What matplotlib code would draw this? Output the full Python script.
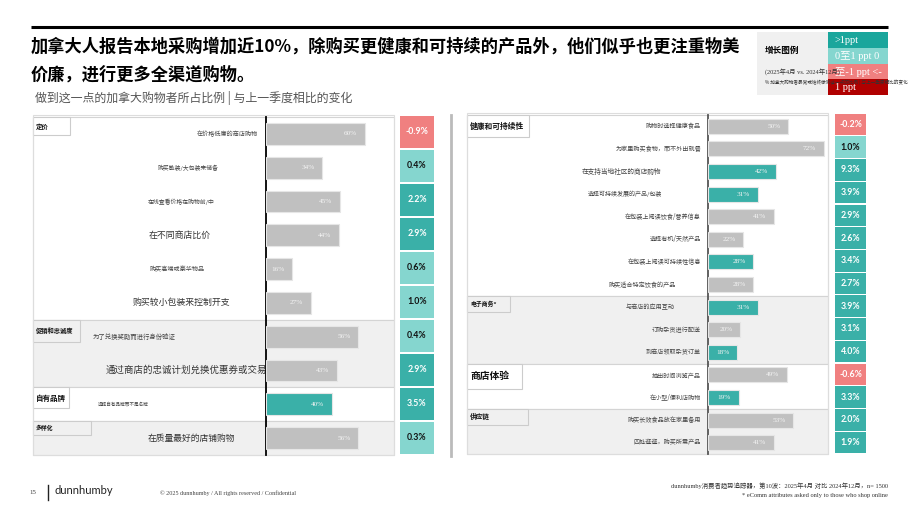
import matplotlib
matplotlib.use('Agg')
import matplotlib.pyplot as plt
from matplotlib.patches import Rectangle
import matplotlib.transforms as mtrans

plt.rcParams['font.family'] = ['Noto Sans CJK SC', 'DejaVu Sans']

# ---------------- data ----------------
title_lines = ['加拿大人报告本地采购增加近10%，除购买更健康和可持续的产品外，他们似乎也更注重物美',
               '价廉，进行更多全渠道购物。']
subtitle = '做到这一点的加拿大购物者所占比例 | 与上一季度相比的变化'

left_categories = ['在价格低廉的商店购物', '购买散装/大包装来储备', '在线查看价格在购物前/中',
                   '在不同商店比价', '购买高端或豪华物品', '购买较小包装来控制开支',
                   '为了兑换奖励而进行身份验证', '通过商店的忠诚计划兑换优惠券或交易',
                   '选择自有品牌而不是名牌', '在质量最好的店铺购物']
left_values = [60, 34, 45, 44, 16, 27, 56, 43, 40, 56]
left_changes = [-0.9, 0.4, 2.2, 2.9, 0.6, 1.0, 0.4, 2.9, 3.5, 0.3]
left_highlight = [False, False, False, False, False, False, False, False, True, False]
left_sections = ['定价', '促销和忠诚度', '自有品牌', '多样化']
left_section_sizes = [6, 2, 1, 1]

right_categories = ['购物时选择健康食品', '为家里购买食物，而不外出就餐', '在支持当地社区的商店购物',
                    '选择可持续发展的产品/包装', '在包装上阅读饮食/营养信息', '选择有机/天然产品',
                    '在包装上阅读可持续性信息', '购买适合特定饮食的产品', '与商店的应用互动',
                    '订购杂货进行配送', '到商店领取杂货订单', '抽出时间浏览产品',
                    '在小型/便利店购物', '购买长效食品放在家里备用', '四处逛逛，购买所需产品']
right_values = [50, 72, 42, 31, 41, 22, 28, 28, 31, 20, 18, 49, 19, 53, 41]
right_changes = [-0.2, 1.0, 9.3, 3.9, 2.9, 2.6, 3.4, 2.7, 3.9, 3.1, 4.0, -0.6, 3.3, 2.0, 1.9]
right_highlight = [False, False, True, True, False, False, True, False, True, False, True,
                   False, True, False, False]
right_sections = ['健康和可持续性', '电子商务*', '商店体验', '供应链']
right_section_sizes = [8, 3, 2, 2]

legend_title = '增长图例'
legend_period = '(2025年4月 vs. 2024年12月)'
legend_note = '% 加拿大购物者最常或始终做到这一点的比例 | 与上一季度相比的变化'
legend_labels = ['>1ppt', '0至1 ppt 0', '至-1 ppt <-', '1 ppt']
legend_colors = ['#1aa69c', '#85d6cf', '#f08080', '#b00000']

footer_page = '15'
footer_brand = 'dunnhumby'
footer_copy = '© 2025 dunnhumby / All rights reserved / Confidential'
footer_source = 'dunnhumby消费者趋势追踪器，第10波：2025年4月 对比 2024年12月，n= 1500'
footer_note = '* eComm attributes asked only to those who shop online'

# ---------------- styles ----------------
GRAY_BAR = '#c0c0c0'
TEAL = '#3ab0a8'
LIGHT = '#85d6cf'
SALMON = '#f08080'
BAND = '#f0f0f0'
SERIF = ['Liberation Serif', 'Noto Sans CJK SC']

W, H = 920, 518
fig = plt.figure(figsize=(W / 100, H / 100), dpi=100)
bg = fig.add_axes([0, 0, 1, 1])
bg.set_xlim(0, W)
bg.set_ylim(H, 0)
bg.axis('off')


def fax(x0, y0, x1, y1):
    a = fig.add_axes([x0 / W, 1 - y1 / H, (x1 - x0) / W, (y1 - y0) / H])
    return a


def change_style(v):
    if v < 0:
        return SALMON, 'white'
    if v <= 1.0:
        return LIGHT, '#111111'
    return TEAL, 'white'


# ---------------- header ----------------
bg.plot([31, 888], [27, 27], color='black', lw=2.2, solid_capstyle='butt')
bg.text(31, 47, title_lines[0], fontsize=12.4, fontweight='heavy', va='center', ha='left')
bg.text(31, 75, title_lines[1], fontsize=12.4, fontweight='heavy', va='center', ha='left')
bg.text(35, 98, subtitle, fontsize=8.6, color='#555555', va='center', ha='left')

# legend
bg.add_patch(Rectangle((757, 32), 131, 63, facecolor='#f0f0f0', edgecolor='none'))
for k, (lab, col) in enumerate(zip(legend_labels, legend_colors)):
    y0 = 32 + k * 15.8
    bg.add_patch(Rectangle((828, y0), 60, 15.8, facecolor=col, edgecolor='none'))
    bg.text(835, y0 + 8.5, lab, fontsize=7.5, color='white', family=SERIF, va='center', ha='left')
bg.text(765, 50, legend_title, fontsize=6.2, fontweight='bold', va='center', ha='left')
bg.text(765, 72, legend_period, fontsize=4.6, family=SERIF, color='#333333', va='center', ha='left')
bg.text(765, 82, legend_note, fontsize=3.35, color='#333333', va='center', ha='left')


# ---------------- panels ----------------
def draw_panel(cats, vals, changes, hl, sections, sizes, geo, label_style, header_style):
    px0, px1, top, bottom, axis_x, xscale, cx0, cx1, axis_color, bar_h = geo
    n = len(cats)
    pitch = (bottom - top) / n
    # section bands
    r = 0
    for s, (name, size) in enumerate(zip(sections, sizes)):
        y0 = top + r * pitch
        face = 'white' if s % 2 == 0 else BAND
        bg.add_patch(Rectangle((px0, y0), px1 - px0, size * pitch, facecolor=face,
                               edgecolor='#d4d4d4', lw=0.8, zorder=0.5))
        bw, bh, fs = header_style[s]
        bg.add_patch(Rectangle((px0, y0), bw, bh, facecolor=face, edgecolor='#cccccc',
                               lw=0.8, zorder=0.6))
        bg.text(px0 + 3, y0 + bh / 2, name, fontsize=fs, fontweight='bold', va='center',
                ha='left', color='#111111', zorder=0.7)
        r += size
    bg.add_patch(Rectangle((px0, top - 2), px1 - px0, bottom - top + 2, facecolor='none',
                           edgecolor='#dddddd', lw=0.8, zorder=0.8))
    # bars
    ax = fax(axis_x, top, px1, bottom)
    ax.set_xlim(0, (px1 - axis_x) / xscale)
    ax.set_ylim(n - 0.5, -0.5)
    ax.patch.set_alpha(0)
    colors = [TEAL if h else GRAY_BAR for h in hl]
    ax.barh(range(n), vals, height=bar_h, color=colors, edgecolor='#e6e6e6', lw=0.8)
    for i, v in enumerate(vals):
        ax.annotate(f'{v}%', xy=(v, i), xytext=(-5.5, 0), textcoords='offset points',
                    ha='right', va='center', fontsize=5.2, color='#f4f4f4', family=SERIF)
    ax.axis('off')
    bg.plot([axis_x, axis_x], [top, bottom], color=axis_color, lw=1.3, zorder=5)
    # labels
    tr = mtrans.blended_transform_factory(bg.transData, ax.transData)
    for i, c in enumerate(cats):
        x, ha, fs = label_style[i]
        bg.text(x, i, c, transform=tr, fontsize=fs, ha=ha, va='center',
                color='#333333' if fs > 5.5 else '#444444', zorder=3)
    # change boxes
    cax = fax(cx0, top - 2, cx1, bottom)
    cax.set_xlim(0, 1)
    cax.set_ylim(n - 0.5, -0.5)
    for i, v in enumerate(changes):
        fc, tc = change_style(v)
        cax.barh(i, 1, height=0.95, color=fc, edgecolor='none')
        cax.text(0.5, i, f'{v:.1f}%', ha='center', va='center', fontsize=6.3,
                 fontweight='bold', color=tc, family=['Lato', 'DejaVu Sans'])
    cax.axis('off')


left_label_style = [(258, 'right', 4.4), (188, 'center', 4.2), (181, 'center', 4.2),
                    (180, 'center', 6.4), (177, 'center', 4.4), (181, 'center', 6.4),
                    (134, 'center', 4.6), (186, 'center', 6.8), (123, 'center', 3.3),
                    (191, 'center', 6.3)]
left_header_style = [(37, 18, 4.6), (47, 22, 4.5), (36, 21, 5.4), (58, 14, 4.2)]
draw_panel(left_categories, left_values, left_changes, left_highlight, left_sections,
           left_section_sizes,
           (33, 394, 117, 455, 266, 1.65, 400, 434, 'black', 0.65),
           left_label_style, left_header_style)

right_label_style = [(701, 'right', 4.4)] * len(right_categories)
right_label_style[2] = (622, 'center', 4.8)
right_label_style[3] = (625, 'center', 4.3)
right_label_style[7] = (642, 'center', 4.4)
right_label_style[8] = (650, 'center', 4.4)
right_header_style = [(62, 22, 5.6), (43, 16, 4.2), (55, 25, 7.0), (61, 16, 4.8)]
draw_panel(right_categories, right_values, right_changes, right_highlight, right_sections,
           right_section_sizes,
           (467, 828, 115, 454, 708, 1.61, 835, 866, '#555555', 0.66),
           right_label_style, right_header_style)

# separator between panels
bg.plot([451, 451], [115, 456], color='#bbbbbb', lw=2)

# ---------------- footer ----------------
bg.text(33, 493, footer_page, fontsize=5, family=SERIF, color='#444444', va='center', ha='center')
bg.plot([48, 48], [485, 500], color='#222222', lw=1)
bg.text(55, 491, footer_brand, fontsize=8, family=['Lato', 'DejaVu Sans'], color='#222222',
        va='center', ha='left')
bg.text(160, 493, footer_copy, fontsize=4.4, family=SERIF, color='#444444', va='center', ha='left')
bg.text(888, 486, footer_source, fontsize=4.6, family=SERIF, color='#333333', va='center', ha='right')
bg.text(888, 496, footer_note, fontsize=4.6, family=SERIF, color='#333333', va='center', ha='right')

fig.savefig('out.png', dpi=100)
